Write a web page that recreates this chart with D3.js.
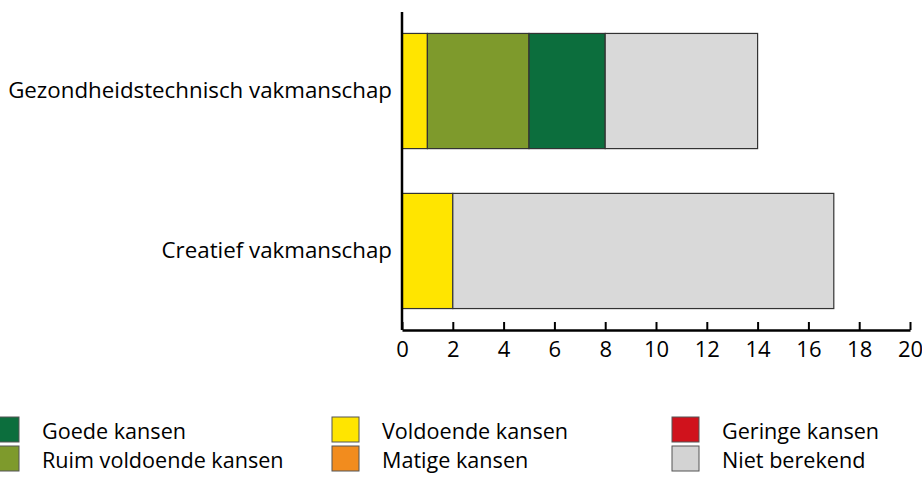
<!DOCTYPE html>
<html>
<head>
<meta charset="utf-8">
<script src="https://cdn.jsdelivr.net/npm/d3@7"></script>
<style>
  body { margin: 0; background: #fff; }
  svg { display: block; font-family: "Open Sans", sans-serif; }
</style>
</head>
<body>
<svg id="chart" width="922" height="481"></svg>
<script>
// chart values
const categories = ['Gezondheidstechnisch vakmanschap', 'Creatief vakmanschap'];
const stackKeys = ['Voldoende kansen', 'Ruim voldoende kansen', 'Goede kansen', 'Niet berekend'];
const voldoende = [1, 2];
const ruimVoldoende = [4, 0];
const goede = [3, 0];
const nietBerekend = [6, 15];
const xTicks = [0, 2, 4, 6, 8, 10, 12, 14, 16, 18, 20];
const legendItems = [
  'Goede kansen', 'Ruim voldoende kansen',
  'Voldoende kansen', 'Matige kansen',
  'Geringe kansen', 'Niet berekend'
];

const colors = {
  'Goede kansen': '#0c6e3d',
  'Ruim voldoende kansen': '#7e9a2c',
  'Voldoende kansen': '#ffe500',
  'Matige kansen': '#f28c1e',
  'Geringe kansen': '#d0121c',
  'Niet berekend': '#d9d9d9'
};

const width = 922;
const margin = { top: 12, left: 402, right: 12 };
const plotBottom = 330;
const font = '"Open Sans", sans-serif';

const svg = d3.select('#chart');

const rows = categories.map((c, i) => ({
  category: c,
  'Voldoende kansen': voldoende[i],
  'Ruim voldoende kansen': ruimVoldoende[i],
  'Goede kansen': goede[i],
  'Niet berekend': nietBerekend[i]
}));

const series = d3.stack().keys(stackKeys)(rows);

const x = d3.scaleLinear().domain([0, 20]).range([margin.left, width - margin.right]);
const y = d3.scaleBand().domain(categories).range([margin.top, plotBottom]).paddingInner(0.28).paddingOuter(0.134);

// bars
svg.append('g')
  .selectAll('g')
  .data(series)
  .join('g')
  .attr('fill', (d) => colors[d.key])
  .selectAll('rect')
  .data((d) => d.filter((s) => s[1] - s[0] > 0))
  .join('rect')
  .attr('x', (d) => x(d[0]))
  .attr('width', (d) => x(d[1]) - x(d[0]))
  .attr('y', (d) => y(d.data.category))
  .attr('height', y.bandwidth())
  .attr('stroke', '#333')
  .attr('stroke-width', 1.2);

// x axis, ticks pointing up
const xAxis = svg.append('g')
  .attr('transform', `translate(0, ${plotBottom})`)
  .call(d3.axisBottom(x).tickValues(xTicks).tickSize(-8).tickPadding(8).tickSizeOuter(0));
xAxis.attr('font-family', font);
xAxis.select('.domain').attr('stroke', '#000').attr('stroke-width', 2.5);
xAxis.selectAll('.tick line').attr('stroke', '#000').attr('stroke-width', 2);
xAxis.selectAll('.tick text')
  .attr('fill', '#000')
  .style('font-size', '22px')
  .attr('dy', '0.85em');

// y axis
const yAxis = svg.append('g')
  .attr('transform', `translate(${margin.left}, 0)`)
  .call(d3.axisLeft(y).tickSize(0).tickPadding(10));
yAxis.attr('font-family', font);
yAxis.select('.domain').attr('stroke', '#000').attr('stroke-width', 2.5)
  .attr('d', `M0,${margin.top}V${plotBottom}`);
yAxis.selectAll('.tick text')
  .attr('fill', '#000')
  .style('font-size', '22.3px');

// legend
const legendCols = [0, 340, 680];
const legend = svg.append('g').attr('font-family', font);
legendItems.forEach((name, i) => {
  const col = Math.floor(i / 2);
  const row = i % 2;
  const gx = legendCols[col] - 8;
  const gy = 417 + row * 29;
  legend.append('rect')
    .attr('x', gx)
    .attr('y', gy)
    .attr('width', 27)
    .attr('height', 25)
    .attr('fill', colors[name] === '#d9d9d9' ? '#d3d3d3' : colors[name])
    .attr('stroke', '#555')
    .attr('stroke-width', 1);
  legend.append('text')
    .attr('x', gx + 50)
    .attr('y', gy + 14)
    .attr('dy', '0.35em')
    .style('font-size', '21.6px')
    .attr('fill', '#000')
    .text(name);
});
</script>
</body>
</html>
